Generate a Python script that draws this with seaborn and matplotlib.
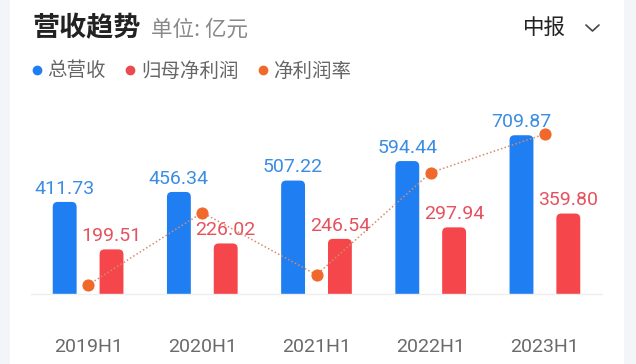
import numpy as np
import pandas as pd
import matplotlib
matplotlib.use("Agg")
import matplotlib.pyplot as plt
from matplotlib.patches import FancyBboxPatch, Rectangle
from matplotlib.lines import Line2D
import seaborn as sns

periods = ["2019H1", "2020H1", "2021H1", "2022H1", "2023H1"]
revenue = [411.73, 456.34, 507.22, 594.44, 709.87]      # 总营收
net_profit = [199.51, 226.02, 246.54, 297.94, 359.80]   # 归母净利润
margin = [48.46, 49.53, 48.61, 50.12, 50.69]            # 净利润率 (%)

blue = "#1f7ff2"
red = "#f5474b"
orange = "#f0692b"

sns.set_theme(style="white")
plt.rcParams["font.family"] = ["Noto Sans CJK SC", "DejaVu Sans"]

df = pd.DataFrame({
    "period": periods * 2,
    "value": revenue + net_profit,
    "series": ["总营收"] * 5 + ["归母净利润"] * 5,
})

fig = plt.figure(figsize=(6.36, 3.64), dpi=100, facecolor="#f3f5f9")
fig.patches.append(Rectangle((10 / 636, 0), 614 / 636, 1, transform=fig.transFigure,
                             facecolor="white", edgecolor="none", zorder=-5))

ax = fig.add_axes([31 / 636, 70 / 364, 571 / 636, 174 / 364])
ax.set_facecolor("none")
sns.barplot(data=df, x="period", y="value", hue="series", order=periods,
            palette=[blue, red], width=0.82, gap=0.49, legend=False, ax=ax,
            saturation=1)
ax.set_ylim(0, 778)
ax.set_xlim(-0.5, len(periods) - 0.5)

# rounded top corners
bbox = ax.get_window_extent()
px_x = (ax.get_xlim()[1] - ax.get_xlim()[0]) / bbox.width
px_y = (ax.get_ylim()[1] - ax.get_ylim()[0]) / bbox.height
r = 5
for p in list(ax.patches):
    x0, w, h = p.get_x(), p.get_width(), p.get_height()
    fb = FancyBboxPatch((x0, -r * px_y), w, h + r * px_y,
                        boxstyle=f"round,pad=0,rounding_size={r * px_x}",
                        mutation_aspect=px_y / px_x,
                        facecolor=p.get_facecolor(), edgecolor="none")
    ax.add_patch(fb)
    p.set_visible(False)

label_colors = ["#3a8de2", "#e5525f"]
for cont, col in zip(ax.containers, label_colors):
    ax.bar_label(cont, fmt="%.2f", padding=3, color=col, fontsize=14,
                 family="Roboto")

for s in ["top", "right", "left"]:
    ax.spines[s].set_visible(False)
ax.spines["bottom"].set_color("#eeeeee")
ax.spines["bottom"].set_linewidth(1)
ax.set_yticks([])
ax.set_xlabel("")
ax.set_ylabel("")
ax.tick_params(axis="x", length=0, pad=32, labelsize=14, labelcolor="#6a6a6a")
for t in ax.get_xticklabels():
    t.set_family("Roboto")

ax2 = ax.twinx()
sns.lineplot(x=np.arange(len(periods)), y=margin, ax=ax2, color="#d98a6a",
             linestyle=(0, (1, 1.5)), linewidth=1.1, marker="o", markersize=8,
             markerfacecolor=orange, markeredgecolor=orange)
ax2.set_ylim(48.327, 50.897)
ax2.set_yticks([])
ax2.set_ylabel("")
for s in ax2.spines.values():
    s.set_visible(False)

fig.text(32 / 636, 1 - 28 / 364, "营收趋势", fontsize=19.5, fontweight="bold",
         color="#222222", va="center")
fig.text(151 / 636, 1 - 30 / 364, "单位: 亿元", fontsize=15.5, color="#888888",
         va="center")
fig.text(523 / 636, 1 - 28 / 364, "中报", fontsize=15.5, color="#222222",
         va="center")
fig.add_artist(Line2D([586 / 636, 592.5 / 636, 599 / 636],
                      [1 - 25 / 364, 1 - 31 / 364, 1 - 25 / 364],
                      transform=fig.transFigure, color="#444444", linewidth=1.2))

handles = [Line2D([], [], marker="o", linestyle="none", color=c, markersize=6)
           for c in [blue, "#e94b50", orange]]
fig.legend(handles, ["总营收", "归母净利润", "净利润率"], ncol=3, frameon=False,
           loc="center left", bbox_to_anchor=(32 / 636, 1 - 71 / 364),
           fontsize=14, labelcolor="#666666", handlelength=0.5,
           handletextpad=0.3, columnspacing=1.0, borderpad=0, borderaxespad=0)

fig.savefig("out.png", dpi=100, facecolor=fig.get_facecolor())
